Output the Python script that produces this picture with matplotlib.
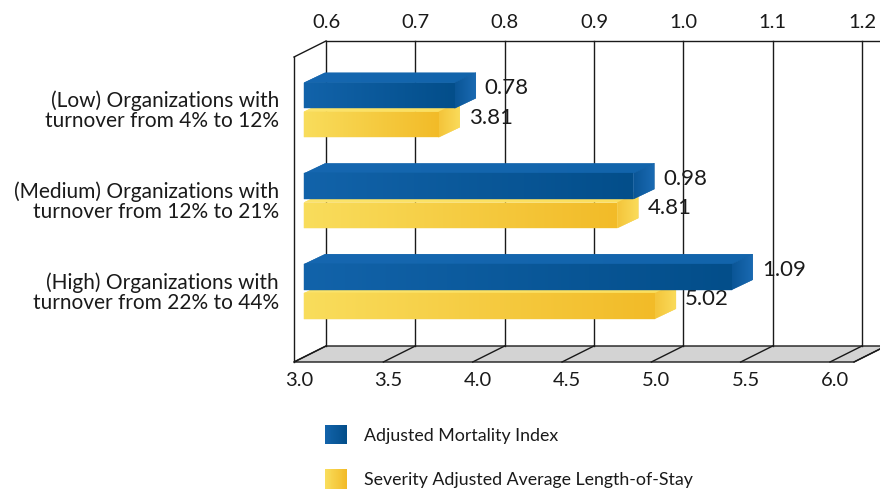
import numpy as np
import matplotlib
matplotlib.use("Agg")
import matplotlib.pyplot as plt
from matplotlib.patches import Polygon, Rectangle, Patch
from matplotlib.colors import LinearSegmentedColormap
from matplotlib.transforms import ScaledTranslation
from matplotlib.legend_handler import HandlerBase

# ---------------- data ----------------
categories = [
    "(Low) Organizations with\nturnover from 4% to 12%",
    "(Medium) Organizations with\nturnover from 12% to 21%",
    "(High) Organizations with\nturnover from 22% to 44%",
]
mortality = [0.78, 0.98, 1.09]
los = [3.81, 4.81, 5.02]
mort_ticks = [0.6, 0.7, 0.8, 0.9, 1.0, 1.1, 1.2]
los_ticks = [3.0, 3.5, 4.0, 4.5, 5.0, 5.5, 6.0]
series_names = ["Adjusted Mortality Index", "Severity Adjusted Average Length-of-Stay"]

# ---------------- style ----------------
FONT = "Lato"
TXT = "#1a1a1a"
LINE = "#1a1a1a"
BLUE_FRONT = ("#1263aa", "#034e8a")
BLUE_TOP = ("#1667b0", "#1264ab")
BLUE_SIDE = ("#0a5596", "#1a6ab2")
YEL_FRONT = ("#f9dd5c", "#f2bb28")
YEL_TOP = ("#fce46c", "#fbdf5e")
YEL_SIDE = ("#f4c43a", "#fadb5a")
FLOOR = "#d3d3d3"

W, H, DPI = 880, 492, 100
fig = plt.figure(figsize=(W / DPI, H / DPI), dpi=DPI)
fig.patch.set_facecolor("white")

L, R, T, B = 294, 880, 57, 362          # front plane in pixels
ax = fig.add_axes([L / W, 1 - B / H, (R - L) / W, (B - T) / H])
px_per_los = 536 / 3.0
los_lo = los_ticks[0]
los_hi = los_lo + (R - L) / px_per_los
ax.set_xlim(los_lo, los_hi)
group_px, first_px = 90.75, 110.0
ax.set_ylim((B - first_px) / group_px, (T - first_px) / group_px)
ax.set_autoscale_on(False)
ax.axis("off")

ax2 = ax.twiny()
mort_lo = mort_ticks[0]
ax2.set_xlim(mort_lo, mort_lo + (los_hi - los_lo) * (mort_ticks[1] - mort_ticks[0]) / (los_ticks[1] - los_ticks[0]))
ax2.set_autoscale_on(False)
ax2.axis("off")

WALL = (32, 16)   # depth offset of the walls (px)
BAR = (21, 10)    # depth offset of bars (px)


def off(dx, dy):
    return ScaledTranslation(dx / DPI, dy / DPI, fig.dpi_scale_trans)


def shift(axis, x, y, dx, dy):
    d = axis.transData.transform((x, y)) + np.array([dx, dy])
    return tuple(axis.transData.inverted().transform(d))


def grad_fill(axis, verts, c0, c1, z):
    xs, ys = zip(*verts)
    cmap = LinearSegmentedColormap.from_list("g", [c0, c1])
    base = Polygon(verts, closed=True, facecolor=cmap(0.5), edgecolor=cmap(0.5),
                   lw=0.3, zorder=z)
    axis.add_patch(base)
    grad = np.linspace(0, 1, 256).reshape(1, -1)
    im = axis.imshow(grad, cmap=cmap, extent=(min(xs), max(xs), max(ys), min(ys)),
                     aspect="auto", interpolation="bilinear", zorder=z)
    clip = Polygon(verts, closed=True, transform=axis.transData)
    im.set_clip_path(clip)


ybot, ytop = ax.get_ylim()

# floor
floor_end = shift(ax, los_ticks[-1], ybot, 24, 0)[0]
fl = [(los_lo, ybot), (floor_end, ybot), shift(ax, floor_end, ybot, *WALL), shift(ax, los_lo, ybot, *WALL)]
ax.add_patch(Polygon(fl, closed=True, facecolor=FLOOR, edgecolor=LINE, lw=1.0, zorder=1, clip_on=False))
for t in los_ticks + [floor_end]:
    p = shift(ax, t, ybot, *WALL)
    ax.plot([t, p[0]], [ybot, p[1]], color=LINE, lw=1.0, zorder=1.1, clip_on=False)

# back wall grid lines
for t in los_ticks:
    p0 = shift(ax, t, ybot, *WALL)
    p1 = shift(ax, t, ytop, *WALL)
    ax.plot([p0[0], p1[0]], [p0[1], p1[1]], color=LINE, lw=1.0, zorder=1, clip_on=False)
# back wall top edge
p0 = shift(ax, los_lo, ytop, *WALL)
p1 = shift(ax, los_hi + 1, ytop, *WALL)
ax.plot([p0[0], p1[0]], [p0[1], p1[1]], color=LINE, lw=1.0, zorder=1, clip_on=False)
# left wall
ax.plot([los_lo, los_lo], [ybot, ytop], color=LINE, lw=1.0, zorder=1, clip_on=False)
ax.plot([los_lo, p0[0]], [ytop, p0[1]], color=LINE, lw=1.0, zorder=1, clip_on=False)

bar_h = 25.5 / group_px
bar_off = 14.5 / group_px


def draw_bar(axis, val, yc, front, top, side, z):
    start = shift(axis, axis.get_xlim()[0], yc, 10, 0)[0]
    y0, y1 = yc - bar_h / 2, yc + bar_h / 2
    front_v = [(start, y0), (val, y0), (val, y1), (start, y1)]
    top_v = [(start, y0), (val, y0), shift(axis, val, y0, *BAR), shift(axis, start, y0, *BAR)]
    side_v = [(val, y0), (val, y1), shift(axis, val, y1, *BAR), shift(axis, val, y0, *BAR)]
    grad_fill(axis, top_v, *top, z)
    grad_fill(axis, side_v, *side, z)
    grad_fill(axis, front_v, *front, z + 0.1)
    axis.text(val, yc, f"{val:.2f}", transform=axis.transData + off(30, 1),
              ha="left", va="baseline", fontsize=16, family=FONT, color=TXT, zorder=6)


for i in range(len(categories)):
    draw_bar(ax, los[i], i + bar_off, YEL_FRONT, YEL_TOP, YEL_SIDE, 3)
for i in range(len(categories)):
    draw_bar(ax2, mortality[i], i - bar_off, BLUE_FRONT, BLUE_TOP, BLUE_SIDE, 4)

# tick labels
for m in mort_ticks:
    ax2.text(m, 1, f"{m:.1f}", transform=ax2.get_xaxis_transform() + off(WALL[0], WALL[1] + 13),
             ha="center", va="baseline", fontsize=14.5, family=FONT, color=TXT)
for t in los_ticks:
    ax.text(t, 0, f"{t:.1f}", transform=ax.get_xaxis_transform() + off(5, -24),
            ha="center", va="baseline", fontsize=14.5, family=FONT, color=TXT)

# category labels
for i, c in enumerate(categories):
    ax.text(0, i, c, transform=ax.get_yaxis_transform() + off(-15, -1),
            ha="right", va="center", multialignment="right", linespacing=1.0,
            fontsize=15, family=FONT, color=TXT)


# legend with gradient swatches
class GradHandler(HandlerBase):
    def __init__(self, c0, c1, n=24):
        super().__init__()
        self.cmap = LinearSegmentedColormap.from_list("h", [c0, c1])
        self.n = n

    def create_artists(self, legend, orig_handle, xdescent, ydescent, width, height, fontsize, trans):
        arts = []
        w = width / self.n
        for k in range(self.n):
            arts.append(Rectangle((-xdescent + k * w, -ydescent), w * 1.08, height,
                                  facecolor=self.cmap(k / (self.n - 1)), edgecolor="none",
                                  lw=0, transform=trans))
        return arts


h1, h2 = Patch(), Patch()
fs_leg = 12.8
fs_px = fs_leg * DPI / 72
fig.legend([h1, h2], series_names,
           handler_map={h1: GradHandler(*BLUE_FRONT), h2: GradHandler(*YEL_FRONT)},
           loc="upper left", bbox_to_anchor=(325 / W, 1 - 425 / H),
           frameon=False, borderpad=0, borderaxespad=0,
           handlelength=22 / fs_px, handleheight=23 / fs_px,
           handletextpad=17 / fs_px, labelspacing=25 / fs_px,
           prop={"family": FONT, "size": fs_leg}, labelcolor=TXT)

fig.savefig("out.png", dpi=DPI)
